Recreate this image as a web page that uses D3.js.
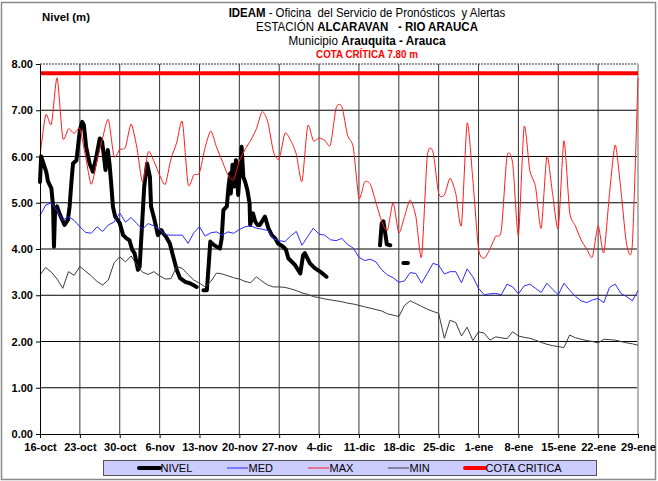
<!DOCTYPE html>
<html>
<head>
<meta charset="utf-8">
<script src="https://cdn.jsdelivr.net/npm/d3@7"></script>
<style>
  html, body { margin: 0; padding: 0; background: #ffffff; }
  svg { display: block; font-family: "Liberation Sans", Arial, Helvetica, sans-serif; }
  text { white-space: pre; }
</style>
</head>
<body>
<svg id="chart" width="658" height="481"></svg>
<script>
// ---- Data: daily statistics from 16-oct (day 0) to 29-ene (day 105) ----
const tickDays = [0, 7, 14, 21, 28, 35, 42, 49, 56, 63, 70, 77, 84, 91, 98, 105];
const tickLabels = ["16-oct", "23-oct", "30-oct", "6-nov", "13-nov", "20-nov", "27-nov", "4-dic",
                    "11-dic", "18-dic", "25-dic", "1-ene", "8-ene", "15-ene", "22-ene", "29-ene"];
const levelTicks = [0, 1, 2, 3, 4, 5, 6, 7, 8];
const cotaCritica = 7.80;

// Historic maximum level (m)
const maxValues = [
  6.00, 6.90, 6.70, 7.70, 6.40, 6.60, 6.50, 6.60, 6.00, 5.40,
  5.90, 6.40, 6.80, 6.00, 6.15, 6.20, 6.70, 6.20, 5.45, 6.10,
  5.90, 5.60, 5.40, 5.95, 6.30, 6.75, 5.40, 5.60, 5.65, 6.20,
  6.55, 6.20, 5.90, 5.60, 5.50, 5.90, 6.15, 6.35, 6.60, 6.97,
  6.75, 6.10, 5.95, 6.50, 6.35, 6.05, 5.46, 6.66, 6.34, 6.40,
  6.35, 6.25, 7.05, 7.08, 6.46, 6.20, 5.10, 5.45, 5.40, 5.00,
  4.60, 4.40, 5.00, 4.35, 4.70, 5.06, 4.70, 3.83, 6.00, 6.10,
  5.20, 5.17, 5.53, 5.20, 4.52, 6.72, 5.50, 4.00, 3.80, 4.00,
  4.27, 4.40, 6.00, 5.85, 4.30, 6.64, 5.70, 5.35, 4.45, 6.00,
  5.20, 4.45, 6.34, 4.80, 4.50, 4.20, 4.00, 3.83, 4.50, 3.92,
  5.20, 6.25, 5.28, 4.10, 4.09, 7.70
];

// Historic mean level (m)
const medValues = [
  4.72, 4.95, 5.00, 4.82, 4.62, 4.70, 4.62, 4.48, 4.36, 4.34,
  4.48, 4.38, 4.52, 4.58, 4.78, 4.58, 4.68, 4.55, 4.43, 4.55,
  4.50, 4.42, 4.31, 4.30, 4.30, 4.30, 4.12, 4.35, 4.48, 4.28,
  4.35, 4.37, 4.30, 4.37, 4.34, 4.42, 4.48, 4.50, 4.45, 4.43,
  4.40, 4.22, 4.18, 4.16, 4.28, 4.38, 4.08, 4.27, 4.45, 4.32,
  4.30, 4.20, 4.18, 4.23, 4.10, 4.02, 3.82, 3.75, 3.78, 3.72,
  3.55, 3.44, 3.38, 3.28, 3.31, 3.49, 3.47, 3.26, 3.47, 3.69,
  3.65, 3.46, 3.51, 3.51, 3.27, 3.57, 3.40, 3.15, 3.01, 3.03,
  3.04, 3.01, 3.24, 3.18, 3.03, 3.20, 3.24, 3.15, 3.06, 3.26,
  3.13, 3.01, 3.26, 3.11, 2.98, 2.88, 2.84, 2.90, 2.93, 2.84,
  3.17, 3.24, 3.04, 2.97, 2.88, 3.10
];

// Historic minimum level (m)
const minValues = [
  3.44, 3.60, 3.50, 3.35, 3.15, 3.51, 3.43, 3.62, 3.52, 3.42,
  3.30, 3.22, 3.33, 3.70, 3.83, 3.72, 3.85, 3.65, 3.50, 3.45,
  3.51, 3.42, 3.35, 3.36, 3.62, 3.58, 3.45, 3.33, 3.26, 3.18,
  3.30, 3.48, 3.46, 3.42, 3.38, 3.35, 3.30, 3.27, 3.40, 3.30,
  3.22, 3.18, 3.18, 3.17, 3.14, 3.10, 3.05, 3.02, 2.97, 2.95,
  2.92, 2.90, 2.88, 2.86, 2.83, 2.81, 2.78, 2.75, 2.72, 2.69,
  2.66, 2.60, 2.57, 2.54, 2.78, 2.88, 2.82, 2.76, 2.70, 2.65,
  2.61, 2.07, 2.46, 2.41, 2.12, 2.31, 2.02, 2.21, 2.18, 2.03,
  2.10, 2.08, 2.06, 2.21, 2.12, 2.09, 2.07, 2.03, 1.98, 1.94,
  1.91, 1.89, 1.87, 2.14, 2.08, 2.05, 2.02, 2.00, 1.97, 2.05,
  2.04, 2.03, 2.00, 1.97, 1.95, 1.92
];

// Observed level readings (fractional day, m); null marks a gap in the record
const nivelDays = [
  0.0, 0.2, 1.1, 1.4, 2.0, 2.3, 2.45, 2.65, 3.0, 3.4, 4.3, 4.9, 5.2, 5.5, 5.8, 6.4,
  7.0, 7.4, 7.7, 8.1, 8.7, 9.3, 9.9, 10.5, 10.9, 11.2, 11.5, 11.9, 12.2, 12.5, 12.8,
  13.2, 14.0, 14.6, 15.2, 15.7, 16.2, 16.6, 17.2, 17.5, 17.9, 18.3, 18.8, 19.3, 19.5,
  20.1, 20.7, 21.3, 21.6, 22.1, 22.8, 23.4, 24.0, 24.6, 25.5, 26.3, 26.9, 27.5,
  28.1,
  28.7, 29.3, 29.6, 29.9, 30.5, 31.0, 31.6, 31.9, 32.2, 32.8, 33.1, 33.4, 33.5, 33.8,
  34.1, 34.4, 34.8, 35.1, 35.4, 35.7, 36.0, 36.4, 36.8, 36.9, 37.4, 37.8, 38.2, 38.6,
  39.5, 40.1, 40.7, 41.3, 41.8, 42.7, 43.2, 43.6, 44.8, 45.7, 46.2, 46.5, 47.4, 48.3,
  49.2, 50.3,
  55.0,
  59.7, 60.0, 60.3, 60.6, 60.9, 61.5,
  62.5,
  63.8, 64.6
];
const nivelValues = [
  5.45, 6.00, 5.67, 5.46, 5.31, 4.92, 4.05, 4.84, 4.92, 4.77, 4.52, 4.63, 4.92, 5.42, 5.85, 5.92,
  6.57, 6.75, 6.68, 6.21, 5.85, 5.67, 6.00, 6.39, 6.32, 6.03, 5.71, 6.14, 5.85, 5.42, 4.92,
  4.70, 4.56, 4.30, 4.23, 4.19, 3.98, 3.91, 3.55, 3.62, 4.48, 5.35, 5.85, 5.56, 4.92,
  4.63, 4.30, 4.41, 4.34, 4.27, 4.12, 3.83, 3.55, 3.37, 3.29, 3.26, 3.22, 3.18,
  null,
  3.11, 3.11, 3.62, 4.16, 4.09, 4.05, 4.01, 4.23, 4.84, 4.92, 5.35, 5.64, 5.20, 5.82,
  5.35, 5.92, 5.17, 5.71, 6.21, 5.56, 5.46, 5.28, 4.99, 4.52, 4.77, 4.59, 4.52, 4.52,
  4.70, 4.45, 4.30, 4.23, 4.12, 4.05, 3.98, 3.80, 3.65, 3.47, 3.87, 3.91, 3.69, 3.58,
  3.51, 3.40,
  null,
  4.08, 4.55, 4.60, 4.35, 4.10, 4.08,
  null,
  3.70, 3.70
];

// ---- Layout ----
const svg = d3.select("#chart");
const W = 658, H = 481;
const plot = { left: 40, right: 638, top: 64, bottom: 434 };

const x = d3.scaleLinear().domain([0, 105]).range([plot.left, plot.right]);
const y = d3.scaleLinear().domain([0, 8]).range([plot.bottom, plot.top]);

// outer frame
svg.append("rect")
  .attr("x", 1.5).attr("y", 2.5).attr("width", W - 4).attr("height", H - 4)
  .attr("fill", "#ffffff").attr("stroke", "#8a8a8a").attr("stroke-width", 1.5);

// ---- Grid ----
const grid = svg.append("g");
grid.selectAll("line.h")
  .data(levelTicks.filter(v => v > 0 && v < 8))
  .join("line")
  .attr("x1", plot.left).attr("x2", plot.right)
  .attr("y1", d => y(d)).attr("y2", d => y(d))
  .attr("stroke", "#000000").attr("stroke-width", 1);

grid.append("line")
  .attr("x1", plot.left).attr("x2", plot.right)
  .attr("y1", y(8)).attr("y2", y(8))
  .attr("stroke", "#333333").attr("stroke-width", 1)
  .attr("stroke-dasharray", "2,1");

grid.selectAll("line.v")
  .data(tickDays.filter(d => d > 0 && d < 105))
  .join("line")
  .attr("x1", d => x(d)).attr("x2", d => x(d))
  .attr("y1", plot.top).attr("y2", plot.bottom)
  .attr("stroke", "#333333").attr("stroke-width", 1);

grid.append("line")
  .attr("x1", x(105)).attr("x2", x(105))
  .attr("y1", plot.top).attr("y2", plot.bottom)
  .attr("stroke", "#b4b4b4").attr("stroke-width", 2);

// ---- Series ----
const days = d3.range(maxValues.length);

const straight = d3.line()
  .x(d => x(d[0])).y(d => y(d[1]))
  .defined(d => d[1] !== null);

const smooth = d3.line()
  .x(d => x(d[0])).y(d => y(d[1]))
  .curve(d3.curveCardinal.tension(0.3));

const nivelPts = nivelDays.map((d, i) => [d, nivelValues[i]]);
svg.append("path")
  .attr("d", straight(nivelPts))
  .attr("fill", "none").attr("stroke", "#000000").attr("stroke-width", 4)
  .attr("stroke-linejoin", "round").attr("stroke-linecap", "round");

svg.append("path")
  .attr("d", straight(days.map(d => [d, medValues[d]])))
  .attr("fill", "none").attr("stroke", "#2a2aff").attr("stroke-width", 1);

svg.append("path")
  .attr("d", smooth(days.map(d => [d, maxValues[d]])))
  .attr("fill", "none").attr("stroke", "#ff1a1a").attr("stroke-width", 1);

svg.append("path")
  .attr("d", straight(days.map(d => [d, minValues[d]])))
  .attr("fill", "none").attr("stroke", "#3c3c3c").attr("stroke-width", 1);

svg.append("path")
  .attr("d", straight(days.map(d => [d, cotaCritica])))
  .attr("fill", "none").attr("stroke", "#ff0000").attr("stroke-width", 4);

// ---- Axes ----
const yAxis = svg.append("g")
  .attr("transform", `translate(${plot.left},0)`)
  .call(d3.axisLeft(y).tickValues(levelTicks).tickFormat(d3.format(".2f"))
        .tickSize(4).tickSizeOuter(0).tickPadding(3));
yAxis.selectAll("text")
  .attr("font-size", 11).attr("font-weight", "bold").attr("fill", "#000")
  .attr("font-family", "'Liberation Sans', Arial, sans-serif");
yAxis.selectAll("line, path").attr("stroke", "#000");

const xAxis = svg.append("g")
  .attr("transform", `translate(0,${plot.bottom})`)
  .call(d3.axisBottom(x).tickValues(tickDays).tickFormat((d, i) => tickLabels[i])
        .tickSize(4).tickSizeOuter(0).tickPadding(5));
xAxis.selectAll("text")
  .attr("font-size", 11).attr("font-weight", "bold").attr("fill", "#000")
  .attr("font-family", "'Liberation Sans', Arial, sans-serif");
xAxis.selectAll("line, path").attr("stroke", "#000");

// ---- Titles ----
function fitText(sel, cx, width) {
  const w = sel.node().getComputedTextLength();
  const sx = width / w;
  sel.attr("x", 0).attr("text-anchor", "middle")
     .attr("transform", `translate(${cx},0) scale(${sx},1)`);
}

const titleX = 367;
const t1 = svg.append("text").attr("y", 17).attr("font-size", 12).attr("fill", "#000");
t1.append("tspan").attr("font-weight", "bold").text("IDEAM");
t1.append("tspan").text(" - Oficina  del Servicio de Pronósticos  y Alertas");
fitText(t1, titleX, 277);

const t2 = svg.append("text").attr("y", 31).attr("font-size", 12).attr("fill", "#000");
t2.append("tspan").text("ESTACIÓN ");
t2.append("tspan").attr("font-weight", "bold").text("ALCARAVAN   - RIO ARAUCA");
fitText(t2, titleX, 222);

const t3 = svg.append("text").attr("y", 45).attr("font-size", 12).attr("fill", "#000");
t3.append("tspan").text("Municipio ");
t3.append("tspan").attr("font-weight", "bold").text("Arauquita - Arauca");
fitText(t3, titleX, 157);

const t4 = svg.append("text").attr("y", 58).attr("font-size", 10.5)
  .attr("font-weight", "bold").attr("fill", "#ff0000").text("COTA CRÍTICA 7.80 m");
fitText(t4, titleX, 102);

const yl = svg.append("text").attr("y", 21).attr("font-size", 11)
  .attr("font-weight", "bold").attr("fill", "#000").text("Nivel (m)");
fitText(yl, 66, 48);

// ---- Legend ----
const legend = svg.append("g");
legend.append("rect")
  .attr("x", 103.5).attr("y", 460.5).attr("width", 493).attr("height", 15)
  .attr("fill", "#ccccff").attr("stroke", "#555555").attr("stroke-width", 1);

const legendItems = [
  { name: "NIVEL", color: "#000000", width: 4, x0: 139, x1: 160 },
  { name: "MED", color: "#2a2aff", width: 1, x0: 227, x1: 248 },
  { name: "MAX", color: "#ff1a1a", width: 1, x0: 308, x1: 329 },
  { name: "MIN", color: "#3c3c3c", width: 1, x0: 388, x1: 409 },
  { name: "COTA CRITICA", color: "#ff0000", width: 4, x0: 465, x1: 485 }
];
const li = legend.selectAll("g.item").data(legendItems).join("g");
li.append("line")
  .attr("x1", d => d.x0).attr("x2", d => d.x1)
  .attr("y1", 468).attr("y2", 468)
  .attr("stroke", d => d.color).attr("stroke-width", d => d.width)
  .attr("stroke-linecap", d => d.width > 1 ? "round" : "butt");
li.append("text")
  .attr("x", d => d.x1 + 0.5).attr("y", 472)
  .attr("font-size", 11).attr("fill", "#000")
  .text(d => d.name);
</script>
</body>
</html>
